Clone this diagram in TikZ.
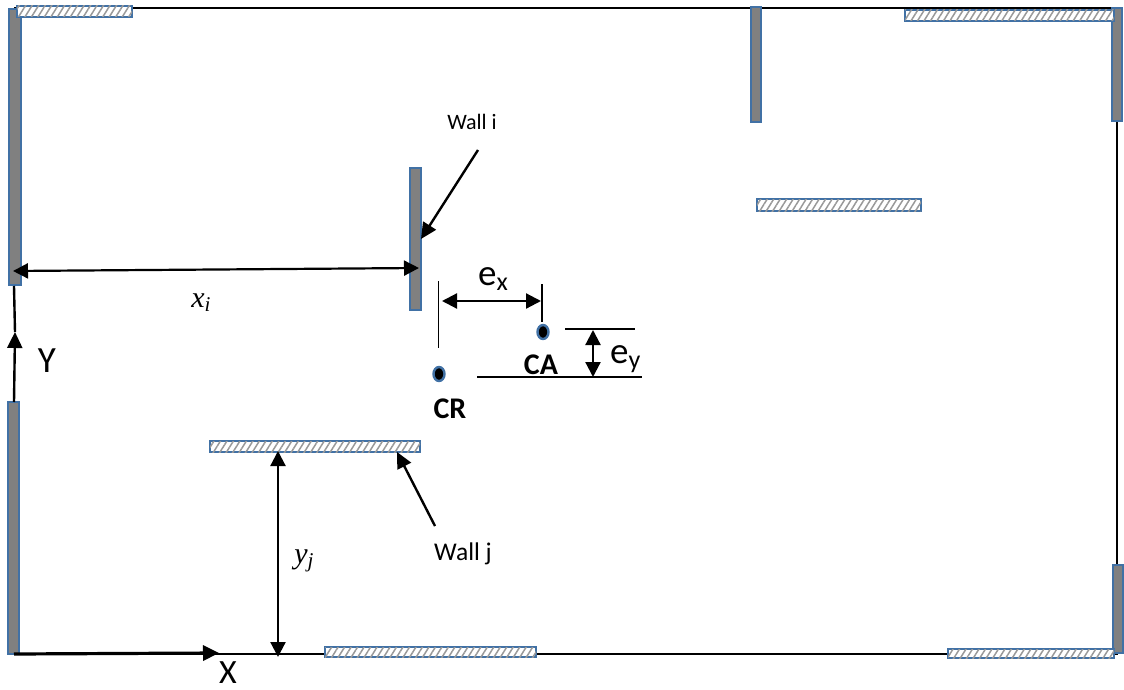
\documentclass[tikz,border=0pt]{standalone}
\usepackage{fontspec}
\setmainfont{Carlito}
\newfontfamily\mathlike{Liberation Serif}
\usetikzlibrary{arrows.meta,patterns.meta,shapes.geometric}
\definecolor{wallblue}{RGB}{65,113,165}
\definecolor{wallgray}{RGB}{128,128,128}
\tikzset{
  wallbase/.style={draw=wallblue,line width=2.6pt,anchor=north west,inner sep=0pt,outer sep=0pt},
  solidwall/.style={wallbase,fill=wallgray},
  hatchwall/.style={wallbase,fill=white,postaction={pattern={Lines[angle=58,distance=5.5pt,line width=1.5pt]},pattern color=wallgray!80}},
  frameline/.style={line width=2.6pt,black},
  dimarrow/.style={line width=2.2pt,{Triangle[length=15pt,width=15pt]}-{Triangle[length=15pt,width=15pt]}},
  onearrow/.style={line width=2.4pt,-{Triangle[length=16pt,width=15pt]}},
  thinline/.style={line width=1.4pt,black},
  centerdot/.style={ellipse,draw=wallblue,fill=black,line width=2.4pt,minimum width=11pt,minimum height=14pt,inner sep=0pt},
  lbl/.style={inner sep=0pt,font=\fontsize{22}{24}\selectfont},
  lblj/.style={inner sep=0pt,font=\fontsize{25.5}{27}\selectfont},
  biglbl/.style={inner sep=0pt,font=\fontsize{37}{38}\selectfont},
  boldlbl/.style={inner sep=0pt,font=\fontsize{30}{32}\selectfont\bfseries},
  mathlbl/.style={inner sep=0pt,font=\fontsize{30}{32}\selectfont\mathlike\itshape}
}
\newcommand{\lowsub}[3]{\raisebox{-#1}{\fontsize{#2}{#2}\selectfont #3}}
\begin{document}
\begin{tikzpicture}[x=1pt,y=-1pt]
\useasboundingbox (0,0) rectangle (1124,690);
% frame corners
\coordinate (tl) at (14,8);
\coordinate (tr) at (1117,8);
\coordinate (br) at (1117,654);
\coordinate (bl) at (14,654);
\draw[frameline] (tl) -- (tr) -- (br) -- (bl);
% walls
\node[solidwall,minimum width=12pt,minimum height=276pt] (w1) at (9,9) {};
\node[solidwall,minimum width=11pt,minimum height=252pt] (w2) at (8,402) {};
\node[solidwall,minimum width=10pt,minimum height=115pt] (w3) at (751,7) {};
\node[solidwall,minimum width=10pt,minimum height=113pt] (w4) at (1112,8) {};
\node[solidwall,minimum width=10pt,minimum height=88pt] (w5) at (1113,565) {};
\node[solidwall,minimum width=11pt,minimum height=142pt] (wi) at (410,168) {};
\node[hatchwall,minimum width=115pt,minimum height=11pt] (h1) at (17,6) {};
\node[hatchwall,minimum width=209pt,minimum height=11pt] (h2) at (905,10) {};
\node[hatchwall,minimum width=164pt,minimum height=12pt] (h3) at (757,199) {};
\node[hatchwall,minimum width=210pt,minimum height=11pt] (wj) at (210,441) {};
\node[hatchwall,minimum width=211pt,minimum height=10pt] (h4) at (325,647) {};
\node[hatchwall,minimum width=166pt,minimum height=9pt] (h5) at (948,649) {};
% axes
\coordinate (ybase) at (14,402);
\coordinate (ytip) at (15,332);
\coordinate (ylink) at (14,286);
\coordinate (xtip) at (219,653);
\draw[onearrow] (ybase) -- (ytip);
\draw[line width=2.4pt] (ytip) -- (ylink);
\draw[line width=3.2pt,-{Triangle[length=16pt,width=15pt]}] (bl) -- (xtip);
\node[biglbl] (ylab) at (47,361) {Y};
\node[inner sep=0pt,font=\fontsize{34}{35}\selectfont] (xlab) at (228,673) {X};
% x_i dimension
\coordinate (xa) at (13,271);
\coordinate (xb) at (419,268);
\draw[dimarrow] (xa) -- (xb);
\node[mathlbl] (xi) at (201,303) {x\lowsub{4pt}{21}{i}};
% y_j dimension
\coordinate (ya) at (278,451);
\coordinate (yb) at (278,657);
\draw[dimarrow] (ya) -- (yb);
\node[mathlbl] (yj) at (304,561) {y\lowsub{4pt}{21}{j}};
% wall labels
\node[lbl] (li) at (472,122) {Wall i};
\node[lblj] (lj) at (463,554) {Wall j};
\coordinate (lia) at (478,150);
\coordinate (lib) at (421,239);
\coordinate (lja) at (435,526);
\coordinate (ljb) at (397,452);
\draw[onearrow] (lia) -- (lib);
\draw[onearrow] (lja) -- (ljb);
% centres
\node[centerdot] (ca) at (543,332) {};
\node[centerdot] (cr) at (439,374) {};
\node[boldlbl] (calab) at (541,365) {CA};
\node[boldlbl] (crlab) at (450,409) {CR};
% e_x
\coordinate (exl1) at (438.5,281);
\coordinate (exl2) at (438.5,348);
\coordinate (exr1) at (542,284);
\coordinate (exr2) at (542,322);
\draw[thinline] (exl1) -- (exl2);
\draw[thinline] (exr1) -- (exr2);
\coordinate (exa) at (442,301);
\coordinate (exb) at (541,301);
\draw[dimarrow] (exa) -- (exb);
\node[biglbl,anchor=base west] (ex) at (478,285) {e\lowsub{5pt}{26}{x}};
% e_y
\coordinate (eyt1) at (565,329);
\coordinate (eyt2) at (635,329);
\coordinate (eyb1) at (477,377);
\coordinate (eyb2) at (642,377);
\draw[thinline] (eyt1) -- (eyt2);
\draw[thinline] (eyb1) -- (eyb2);
\coordinate (eya) at (593,330);
\coordinate (eyb) at (593,377);
\draw[dimarrow] (eya) -- (eyb);
\node[biglbl,anchor=base west] (ey) at (610,363) {e\lowsub{5pt}{26}{y}};
\end{tikzpicture}
\end{document}
